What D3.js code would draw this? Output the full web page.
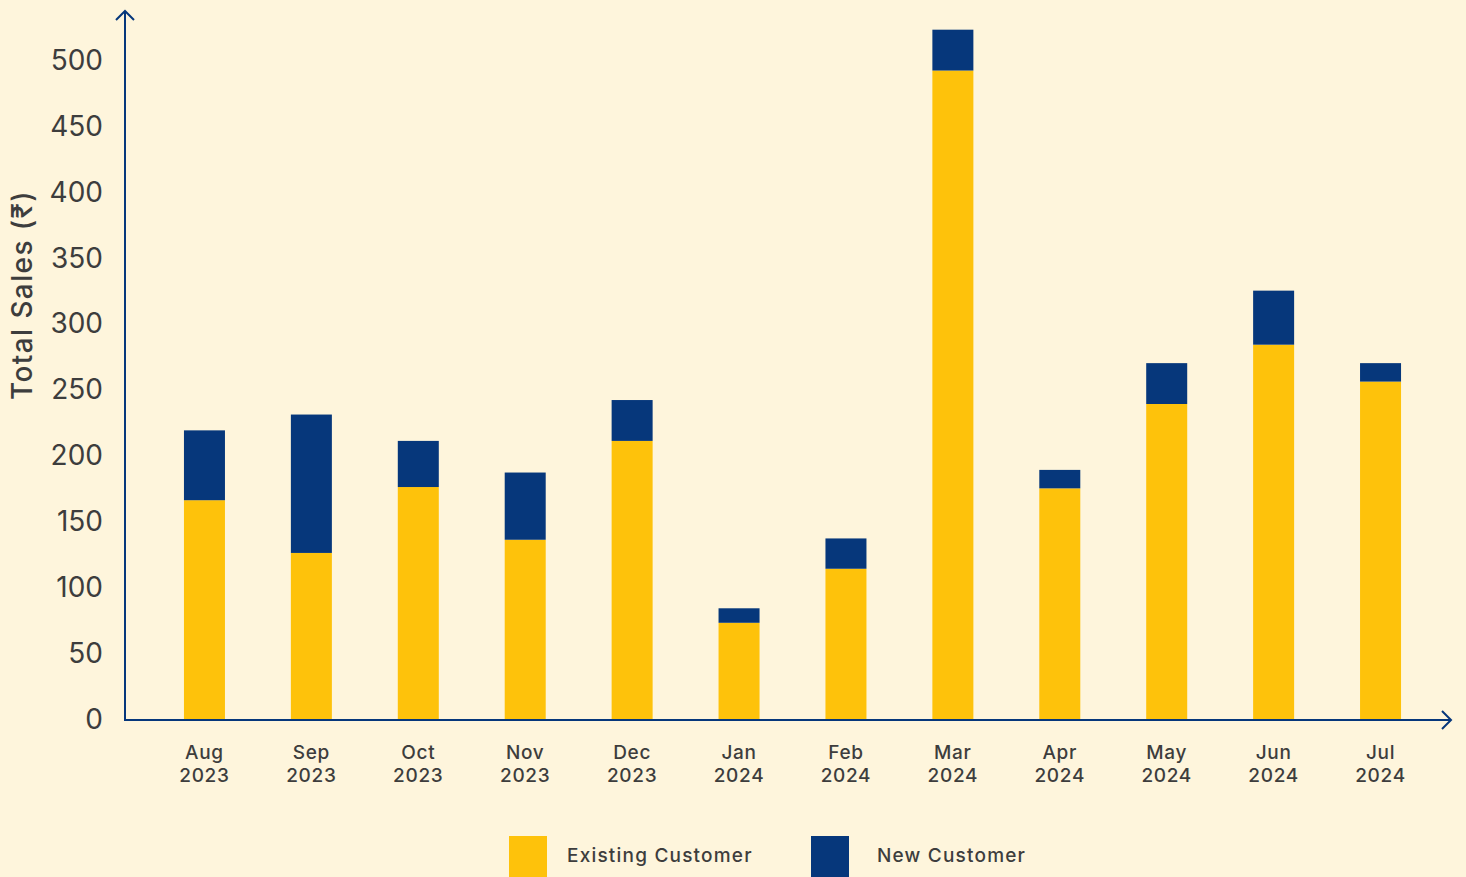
<!DOCTYPE html>
<html>
<head>
<meta charset="utf-8">
<script src="https://cdn.jsdelivr.net/npm/d3@7"></script>
<style>
  body { margin: 0; background: #fef5dc; }
  text { font-family: Inter, "Noto Sans", "DejaVu Sans", sans-serif; }
</style>
</head>
<body>
<div id="chart"></div>
<script>
const months = ['Aug', 'Sep', 'Oct', 'Nov', 'Dec', 'Jan', 'Feb', 'Mar', 'Apr', 'May', 'Jun', 'Jul'];
const years = ['2023', '2023', '2023', '2023', '2023', '2024', '2024', '2024', '2024', '2024', '2024', '2024'];
const existing = [166, 126, 176, 136, 211, 73, 114, 492, 175, 239, 284, 256];
const newCust = [53, 105, 35, 51, 31, 11, 23, 31, 14, 31, 41, 14];
const yTicks = [0, 50, 100, 150, 200, 250, 300, 350, 400, 450, 500];
const seriesNames = ['Existing Customer', 'New Customer'];
const colors = ['#fec20b', '#06377b'];

const width = 1466, height = 877;
const svg = d3.select('#chart').append('svg')
    .attr('width', width)
    .attr('height', height)
    .style('background', '#fef5dc');

const data = months.map((m, i) => ({ key: m + ' ' + years[i], month: m, year: years[i], existing: existing[i], newc: newCust[i] }));

const x = d3.scaleBand()
    .domain(data.map(d => d.key))
    .range([151, 1434]);

const y = d3.scaleLinear()
    .domain([0, 500])
    .range([719, 60]);

const barW = 41;
const stack = d3.stack().keys(['existing', 'newc'])(data);

svg.append('g')
    .selectAll('g')
    .data(stack)
    .enter().append('g')
    .attr('fill', (d, i) => colors[i])
    .selectAll('rect')
    .data(d => d)
    .enter().append('rect')
    .attr('x', d => x(d.data.key) + x.bandwidth() / 2 - barW / 2)
    .attr('y', d => y(d[1]))
    .attr('height', d => y(d[0]) - y(d[1]))
    .attr('width', barW);

// axes
const axisColor = '#06377b';
svg.append('line')
    .attr('x1', 125).attr('x2', 125)
    .attr('y1', 721).attr('y2', 11)
    .attr('stroke', axisColor).attr('stroke-width', 2);
svg.append('path')
    .attr('d', 'M116,20 L125,11 L134,20')
    .attr('fill', 'none').attr('stroke', axisColor).attr('stroke-width', 2);

svg.append('line')
    .attr('x1', 124).attr('x2', 1450)
    .attr('y1', 720).attr('y2', 720)
    .attr('stroke', axisColor).attr('stroke-width', 2);
svg.append('path')
    .attr('d', 'M1442,711 L1451,720 L1442,729')
    .attr('fill', 'none').attr('stroke', axisColor).attr('stroke-width', 2);

// y tick labels
svg.append('g')
    .selectAll('text')
    .data(yTicks)
    .enter().append('text')
    .attr('x', 103)
    .attr('y', d => y(d))
    .attr('dy', '0.35em')
    .attr('text-anchor', 'end')
    .attr('fill', '#3d3d3d')
    .style('font-size', '28px')
    .text(d => d);

// y axis title
svg.append('text')
    .attr('transform', 'translate(32,295) rotate(-90)')
    .attr('text-anchor', 'middle')
    .attr('fill', '#3d3d3d')
    .style('font-size', '28px')
    .style('font-weight', 500)
    .style('letter-spacing', '1.4px')
    .text('Total Sales (₹)');

// x tick labels
const xl = svg.append('g')
    .selectAll('text')
    .data(data)
    .enter().append('text')
    .attr('text-anchor', 'middle')
    .attr('fill', '#3d3d3d')
    .style('font-size', '19px')
    .style('font-weight', 500)
    .style('letter-spacing', '0.7px');
xl.append('tspan')
    .attr('x', d => x(d.key) + x.bandwidth() / 2)
    .attr('y', 759)
    .text(d => d.month);
xl.append('tspan')
    .attr('x', d => x(d.key) + x.bandwidth() / 2)
    .attr('y', 782)
    .text(d => d.year);

// legend
const legendX = [509, 811];
const legendTextX = [58, 66];
const lg = svg.append('g')
    .selectAll('g')
    .data(seriesNames)
    .enter().append('g')
    .attr('transform', (d, i) => 'translate(' + legendX[i] + ',836)');
lg.append('rect')
    .attr('width', 38).attr('height', 41)
    .attr('fill', (d, i) => colors[i]);
lg.append('text')
    .attr('x', (d, i) => legendTextX[i])
    .attr('y', 26)
    .attr('fill', '#3d3d3d')
    .style('font-size', '19px')
    .style('font-weight', 500)
    .style('letter-spacing', '1.2px')
    .text(d => d);
</script>
</body>
</html>
